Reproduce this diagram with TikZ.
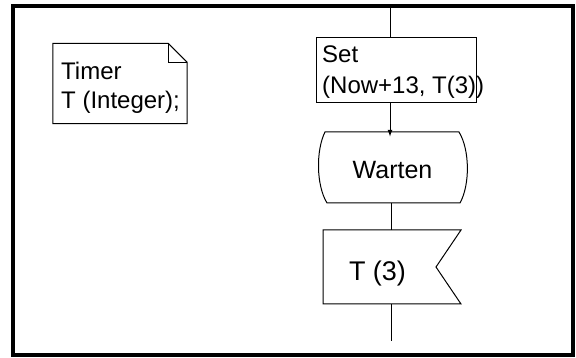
\documentclass[tikz,border=0pt]{standalone}
\usepackage{fontspec}
\setmainfont{Liberation Sans}
\usetikzlibrary{arrows.meta}
\begin{document}
\begin{tikzpicture}[x=1pt,y=-1pt,
  thin line/.style={line width=1pt},
  lbl/.style={inner sep=0pt,anchor=base west,font=\fontsize{24}{28}\selectfont},
  biglbl/.style={inner sep=0pt,anchor=base,font=\fontsize{#1}{30}\selectfont},
  shapebox/.style={inner sep=0pt,minimum width=#1}]
\useasboundingbox (0,0) rectangle (576,358);
\fill[white] (0,0) rectangle (576,358);
% frame
\draw[line width=4pt] (13,6) rectangle (573,355);
% note
\node[shapebox=134pt,minimum height=80pt] (note) at (120,83.5) {};
\draw[thin line] (note.north west) -- ([xshift=-19pt]note.north east) -- ([yshift=-19pt]note.north east) -- (note.south east) -- (note.south west) -- cycle;
\draw[thin line] ([xshift=-19pt]note.north east) -- ([xshift=-19pt,yshift=-19pt]note.north east) -- ([yshift=-19pt]note.north east);
\node[lbl] (t1) at (61,79.5) {Timer};
\node[lbl] (t2) at (61,109) {T (Integer);};
% set box
\coordinate (top) at (390,6);
\node[shapebox=160pt,minimum height=65pt,draw,thin line] (set) at (396,70.5) {};
\node[lbl] (s1) at (322,62.5) {Set};
\node[lbl] (s2) at (322,93.5) {(Now+13, T(3))};
% warten
\node[shapebox=148pt,minimum height=71pt] (warten) at (392,167.5) {};
\draw[thin line] (325,132) -- (459,132) .. controls (470,150) and (470,185) .. (460,203) -- (327,203) .. controls (316,185) and (316,150) .. cycle;
\node[biglbl=25] (wt) at (392.5,178.5) {Warten};
% flag
\node[shapebox=138pt,minimum height=74pt] (flag) at (392,267) {};
\draw[thin line] (323,230) -- (461,230) -- (436,267) -- (461,304) -- (323,304) -- cycle;
\node[biglbl=27] (ft) at (377.5,281) {T (3)};
\coordinate (bot) at (391,341);
% connectors
\draw[thin line] (top) -- (set.north -| top);
\draw[thin line,-{Latex[length=7pt,width=5pt]}] (set.south -| top) -- ([yshift=-5pt]warten.north -| top);
\draw[thin line] (warten.south -| bot) -- (flag.north -| bot);
\draw[thin line] (flag.south -| bot) -- (bot);
\end{tikzpicture}
\end{document}
